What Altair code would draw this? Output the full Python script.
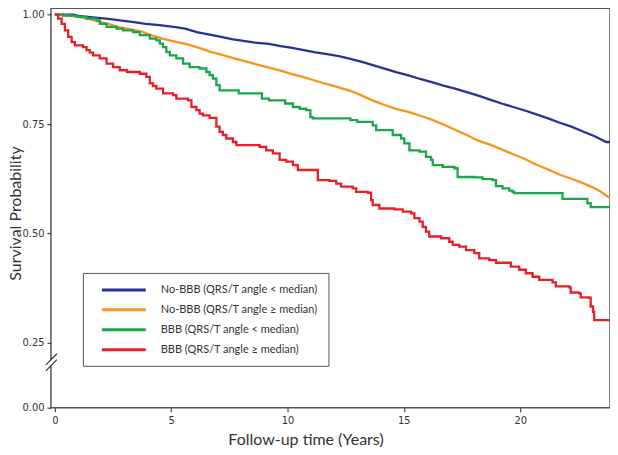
import altair as alt
import pandas as pd

labels = ["No-BBB (QRS/T angle < median)", "No-BBB (QRS/T angle \u2265 median)",
          "BBB (QRS/T angle < median)", "BBB (QRS/T angle \u2265 median)"]
colors = ["#2b3191", "#f7941d", "#1aa64b", "#e81f27"]

t_blue = [0, 0.8, 1.0, 1.4, 2.2, 2.8, 3.4, 3.9, 4.5, 5.1, 5.6, 6.1, 6.6, 7.1, 7.6, 8.1, 8.6, 9.2, 9.7,
          10.2, 10.7, 11.2, 11.7, 12.2, 12.7, 13.2, 13.7, 14.2, 14.7, 15.2, 15.7, 16.2, 16.7, 17.2,
          17.7, 18.2, 18.7, 19.2, 19.7, 20.2, 20.7, 21.2, 21.7, 22.2, 22.7, 23.2, 23.5, 23.7, 23.86]
v_blue = [1.0, 1.0, 0.997, 0.995, 0.991, 0.987, 0.983, 0.979, 0.976, 0.972, 0.968, 0.960, 0.955, 0.950,
          0.944, 0.940, 0.936, 0.933, 0.928, 0.924, 0.919, 0.914, 0.910, 0.905, 0.899, 0.892, 0.884,
          0.876, 0.868, 0.861, 0.853, 0.846, 0.838, 0.831, 0.823, 0.815, 0.806, 0.797, 0.789, 0.781,
          0.772, 0.763, 0.753, 0.744, 0.733, 0.722, 0.714, 0.709, 0.709]

t_orange = [0, 0.6, 1.0, 1.4, 1.9, 2.3, 2.7, 3.2, 3.7, 4.2, 4.7, 5.2, 5.7, 6.2, 6.7, 7.2, 7.7, 8.2, 8.7,
            9.2, 9.7, 10.2, 10.7, 11.2, 11.7, 12.2, 12.7, 13.2, 13.7, 14.2, 14.7, 15.2, 15.7, 16.2,
            16.7, 17.2, 17.7, 18.2, 18.7, 19.2, 19.7, 20.2, 20.7, 21.2, 21.7, 22.2, 22.7, 23.2, 23.5, 23.86]
v_orange = [1.0, 0.998, 0.995, 0.991, 0.984, 0.979, 0.972, 0.967, 0.962, 0.952, 0.944, 0.938, 0.932,
            0.924, 0.915, 0.908, 0.900, 0.893, 0.886, 0.879, 0.872, 0.864, 0.857, 0.849, 0.841, 0.834,
            0.826, 0.815, 0.803, 0.793, 0.784, 0.778, 0.769, 0.760, 0.749, 0.737, 0.725, 0.712, 0.703,
            0.692, 0.681, 0.670, 0.657, 0.646, 0.634, 0.625, 0.615, 0.603, 0.594, 0.580]

t_green = [0, 0.36, 0.93, 1.36, 1.79, 1.93, 2.22, 2.65, 2.93, 3.36, 3.65, 4.08, 4.36, 4.51, 4.65, 4.79,
           4.94, 5.22, 5.51, 5.79, 6.22, 6.51, 6.65, 6.79, 6.94, 7.08, 7.9, 8.9, 9.2, 9.9, 10.23, 10.52,
           10.80, 10.98, 11.09, 12.7, 13.0, 13.66, 13.81, 14.52, 14.88, 15.02, 15.24, 15.67, 15.95,
           16.17, 16.24, 16.67, 17.17, 17.31, 18.03, 18.38, 18.81, 18.96, 19.24, 19.53, 19.67, 19.74,
           21.82, 22.89, 23.03, 23.86]
v_green = [1.0, 0.998, 0.995, 0.991, 0.987, 0.979, 0.972, 0.968, 0.964, 0.960, 0.953, 0.945, 0.941,
           0.934, 0.926, 0.915, 0.907, 0.900, 0.888, 0.880, 0.877, 0.869, 0.862, 0.854, 0.839, 0.827,
           0.820, 0.808, 0.804, 0.797, 0.789, 0.785, 0.782, 0.766, 0.763, 0.759, 0.755, 0.747, 0.736,
           0.725, 0.717, 0.706, 0.690, 0.687, 0.675, 0.668, 0.656, 0.652, 0.649, 0.629, 0.628, 0.624,
           0.622, 0.608, 0.603, 0.598, 0.595, 0.592, 0.579, 0.569, 0.560, 0.560]

t_red = [0, 0.14, 0.29, 0.43, 0.57, 0.72, 0.86, 1.21, 1.36, 1.5, 1.64, 1.93, 2.22, 2.5, 2.79, 3.1, 3.65,
         3.93, 4.08, 4.22, 4.36, 4.65, 5.08, 5.22, 5.72, 5.87, 6.08, 6.22, 6.36, 6.65, 6.94, 7.08, 7.22,
         7.37, 7.65, 7.80, 8.8, 9.08, 9.37, 9.66, 9.94, 10.23, 10.44, 11.30, 11.80, 12.09, 12.30, 12.80,
         12.95, 13.45, 13.59, 13.66, 13.95, 14.59, 14.95, 15.31, 15.45, 15.67, 15.81, 15.95, 16.09,
         16.60, 16.95, 17.10, 17.38, 17.67, 18.03, 18.24, 18.67, 18.96, 19.60, 19.96, 20.24, 20.53,
         20.82, 21.39, 21.53, 22.10, 22.17, 22.53, 22.6, 22.96, 23.03, 23.13, 23.18, 23.86]
v_red = [1.0, 0.991, 0.979, 0.964, 0.949, 0.937, 0.930, 0.926, 0.919, 0.913, 0.907, 0.900, 0.888, 0.880,
         0.873, 0.869, 0.865, 0.858, 0.843, 0.837, 0.831, 0.820, 0.816, 0.808, 0.804, 0.789, 0.782,
         0.774, 0.770, 0.764, 0.744, 0.732, 0.725, 0.717, 0.709, 0.702, 0.698, 0.690, 0.683, 0.668,
         0.664, 0.656, 0.645, 0.622, 0.620, 0.614, 0.607, 0.603, 0.595, 0.593, 0.576, 0.565, 0.557,
         0.555, 0.550, 0.546, 0.535, 0.527, 0.515, 0.504, 0.493, 0.489, 0.481, 0.474, 0.470, 0.462,
         0.455, 0.443, 0.439, 0.433, 0.424, 0.417, 0.409, 0.401, 0.394, 0.388, 0.379, 0.377, 0.365,
         0.363, 0.354, 0.353, 0.333, 0.321, 0.302, 0.302]

y_ticks = [0, 0.25, 0.5, 0.75, 1.0]
x_ticks = [0, 5, 10, 15, 20]

# axis-break decoration (data units)
brk_x = [-0.386, -0.386]
brk_x2 = [0.086, 0.086]
brk_y = [0.142, 0.165]
brk_y2 = [0.185, 0.208]
gap_x, gap_x2, gap_y, gap_y2 = [-0.30], [-0.04], [0.162], [0.185]


def frame(groups):
    rows = []
    for lab, ts, vs in groups:
        for t, v in zip(ts, vs):
            rows.append({"group": lab, "t": t, "v": v})
    return pd.DataFrame(rows)


df_fine = frame([(labels[0], t_blue, v_blue), (labels[1], t_orange, v_orange)])
df_step = frame([(labels[2], t_green, v_green), (labels[3], t_red, v_red)])

x_scale = alt.Scale(domain=[-0.17, 23.86], nice=False, zero=False)
y_scale = alt.Scale(domain=[0, 0.25, 1.0], range=[400, 335, 6.3], nice=False, zero=False)

x_axis = alt.Axis(values=x_ticks, title="Follow-up time (Years)", titleX=255, titleY=32,
                  titleAnchor="start", titleAlign="center", titleBaseline="middle", format="d")
y_axis = alt.Axis(values=y_ticks, format=".2f", title="Survival Probability", titleX=-35, titleY=205,
                  titleAlign="center", titleBaseline="middle", titleAngle=270)

color_enc = alt.Color("group:N", scale=alt.Scale(domain=labels, range=colors),
                      legend=alt.Legend(title=None, orient="none", legendX=32, legendY=265,
                                        symbolType="M-4,0H4", symbolSize=121, symbolStrokeWidth=3,
                                        labelFont="Lato", labelFontSize=11, labelColor="#333",
                                        strokeColor="#555", fillColor="white", padding=10,
                                        symbolOffset=24, rowPadding=7, labelOffset=30,
                                        labelLimit=400))

fine = alt.Chart(df_fine).mark_line(interpolate="linear", strokeWidth=2.3).encode(
    x=alt.X("t:Q", scale=x_scale, axis=x_axis),
    y=alt.Y("v:Q", scale=y_scale, axis=y_axis),
    color=color_enc,
)
steps = alt.Chart(df_step).mark_line(interpolate="step-after", strokeWidth=2.3).encode(
    x=alt.X("t:Q", scale=x_scale, axis=x_axis),
    y=alt.Y("v:Q", scale=y_scale, axis=y_axis),
    color=color_enc,
)

gap = alt.Chart(pd.DataFrame({"x": gap_x, "x2": gap_x2, "y": gap_y, "y2": gap_y2})).mark_rect(
    color="white").encode(
    x=alt.X("x:Q", scale=x_scale, axis=x_axis), x2="x2:Q",
    y=alt.Y("y:Q", scale=y_scale, axis=y_axis), y2="y2:Q")

slashes = alt.Chart(pd.DataFrame({"x": brk_x, "x2": brk_x2, "y": brk_y, "y2": brk_y2})).mark_rule(
    color="#333", strokeWidth=1.2).encode(
    x=alt.X("x:Q", scale=x_scale, axis=x_axis), x2="x2:Q",
    y=alt.Y("y:Q", scale=y_scale, axis=y_axis), y2="y2:Q")

chart = alt.layer(fine, steps, gap, slashes).properties(
    width=560, height=400, autosize="none",
    padding={"left": 43, "top": 0, "right": 0, "bottom": 47},
).configure_view(stroke="#555", strokeWidth=1.5).configure_axis(
    domain=False, grid=False, tickColor="#444", tickSize=4, tickWidth=1.2,
    labelFont="Liberation Sans Narrow, DejaVu Sans Condensed, sans-serif", labelFontSize=11,
    labelColor="#333", labelPadding=3,
    titleFont="Lato", titleFontSize=16, titleFontWeight="normal", titleColor="#333",
)

chart.save("out.html", embed_options={"renderer": "svg", "actions": False})
